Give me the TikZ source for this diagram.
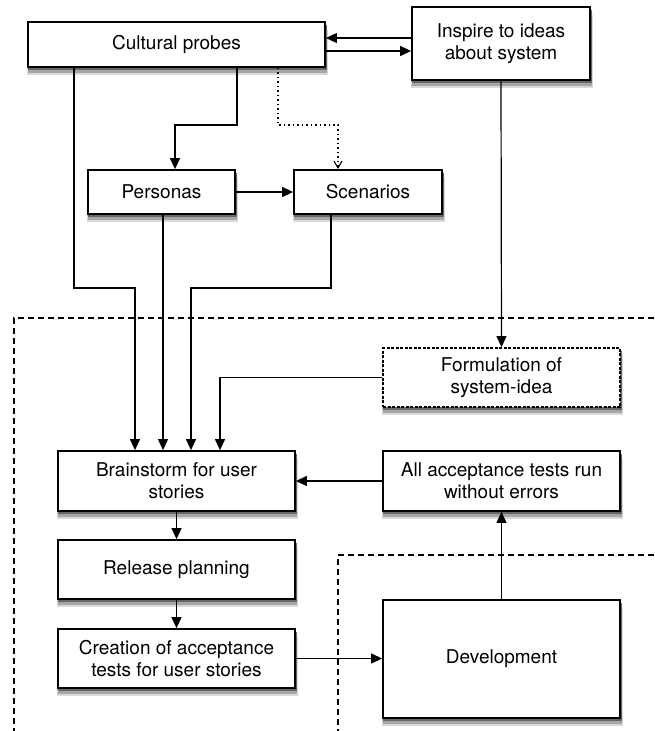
\documentclass[tikz,border=0pt]{standalone}
\usepackage{fontspec}
\setmainfont{TeX Gyre Heros}
\usetikzlibrary{arrows.meta}
\tikzset{
  box/.style={draw=black, line width=1.8pt, fill=white, align=center, inner sep=0pt,
    font=\fontsize{19}{22}\selectfont},
  dbox/.style={box, dash pattern=on 3pt off 1.5pt},
  arr/.style={line width=1.2pt, -{Triangle[length=11pt,width=10pt]}},
  dotarr/.style={line width=1.1pt, dash pattern=on 1.5pt off 3pt, -{Straight Barb[length=7pt,width=8pt]}},
  frame/.style={line width=1.2pt, dash pattern=on 6pt off 4pt},
  shA/.style={fill=black!15},
  shB/.style={fill=black!35},
  shC/.style={fill=black!60}
}
\begin{document}
\begin{tikzpicture}[x=1pt,y=-1pt]
\useasboundingbox (0,0) rectangle (654,731);
% dashed frames
\draw[frame] (654,318) -- (14,318) -- (14,731);
\draw[frame] (654,555) -- (338,555) -- (338,731);
% soft shadows under the boxes
\foreach \cx/\cy/\w/\h in {176.5/44.5/297/45, 501/43.5/178/73, 161.5/192/147/44, 368/192/148/44,
   501.5/377.5/237/59, 176.5/481/237/60, 501.5/481/237/60, 176.5/569.5/237/59,
   176.5/658.5/237/59, 501.5/659/237/118}{
  \fill[shA] ({\cx-\w/2-1},{\cy-\h/2+8}) rectangle ({\cx+\w/2+3},{\cy+\h/2+8});
  \fill[shB] ({\cx-\w/2-0.5},{\cy-\h/2+5.5}) rectangle ({\cx+\w/2+2},{\cy+\h/2+5.5});
  \fill[shC] ({\cx-\w/2},{\cy-\h/2+3}) rectangle ({\cx+\w/2+1.5},{\cy+\h/2+3});
}
% nodes
\node[box, minimum width=297pt, minimum height=45pt] (cp) at (176.5,44.5) {Cultural probes};
\node[box, minimum width=178pt, minimum height=73pt] (insp) at (501,43.5) {Inspire to ideas\\about system};
\node[box, minimum width=147pt, minimum height=44pt] (pers) at (161.5,192) {Personas};
\node[box, minimum width=148pt, minimum height=44pt] (scen) at (368,192) {Scenarios};
\node[dbox, minimum width=237pt, minimum height=59pt] (form) at (501.5,377.5) {Formulation of\\system-idea};
\node[box, minimum width=237pt, minimum height=60pt] (brain) at (176.5,481) {Brainstorm for user\\stories};
\node[box, minimum width=237pt, minimum height=60pt] (allacc) at (501.5,481) {All acceptance tests run\\without errors};
\node[box, minimum width=237pt, minimum height=59pt] (rel) at (176.5,569.5) {Release planning};
\node[box, minimum width=237pt, minimum height=59pt] (cre) at (176.5,658.5) {Creation of acceptance\\tests for user stories};
\node[box, minimum width=237pt, minimum height=118pt] (dev) at (501.5,659) {Development};
% connectors
\draw[arr] ([yshift=5.5pt]insp.west) -- ([yshift=5.5pt]insp.west -| cp.east);
\draw[arr] ([yshift=-6.5pt]cp.east) -- ([yshift=-6.5pt]cp.east -| insp.west);
\draw[arr] (cp.south -| 74,0) |- (135,288) -- (brain.north -| 135,0);
\draw[arr] (cp.south -| 237,0) |- (175,125) -- (pers.north -| 175,0);
\draw[dotarr] (cp.south -| 278,0) |- (338,125) -- (scen.north -| 338,0);
\draw[arr] (pers.east) -- (scen.west);
\draw[arr] (pers.south -| 163,0) -- (brain.north -| 163,0);
\draw[arr] (scen.south -| 331,0) |- (191,288) -- (brain.north -| 191,0);
\draw[arr] (insp.south) -- (form.north);
\draw[arr] (form.west) -| (brain.north -| 220,0);
\draw[arr] (allacc.west) -- (brain.east);
\draw[arr] (brain.south) -- (rel.north);
\draw[arr] (rel.south) -- (cre.north);
\draw[arr] (cre.east) -- (cre.east -| dev.west);
\draw[arr] (dev.north) -- (allacc.south);
\end{tikzpicture}
\end{document}
